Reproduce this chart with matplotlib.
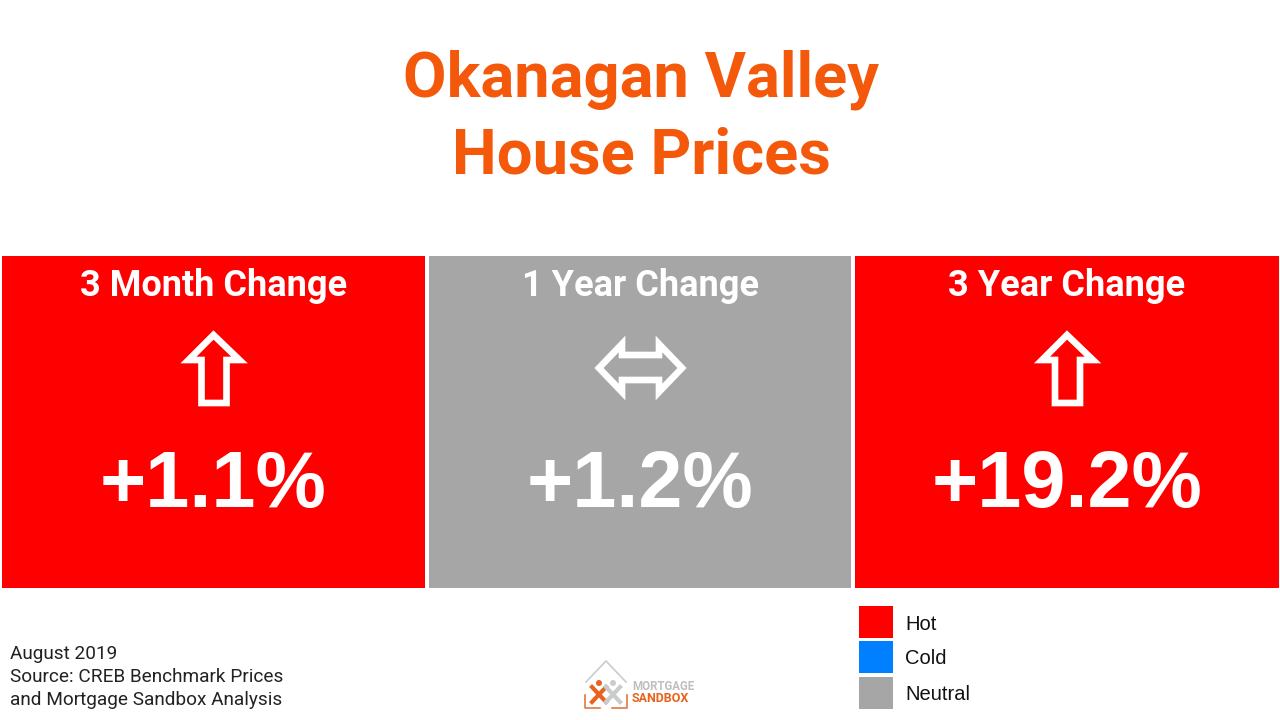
"""Okanagan Valley house prices - change panels"""
import matplotlib
matplotlib.use('Agg')
import matplotlib.pyplot as plt
from matplotlib.patches import Rectangle, Polygon, Circle

TITLE = ["Okanagan Valley", "House Prices"]
PERIODS = ["3 Month Change", "1 Year Change", "3 Year Change"]
CHANGES = ["+1.1%", "+1.2%", "+19.2%"]
STATES = ["Hot", "Neutral", "Hot"]
LEGEND = ["Hot", "Cold", "Neutral"]
FOOTER = ["August 2019", "Source: CREB Benchmark Prices", "and Mortgage Sandbox Analysis"]

COLORS = {"Hot": "#FF0000", "Cold": "#0080FF", "Neutral": "#A6A6A6"}
ORANGE = "#F4580B"
PANEL_X = [(2, 425), (429, 851), (855, 1279)]

UP_ARROW = [(0, -33), (-25, -8), (-12, -8), (-12, 35), (13, 35), (13, -8), (26, -8)]
BOTH_ARROW = [(-41, 0), (-18, -24), (-18, -13), (19, -13), (19, -24), (42, 0),
              (19, 24), (19, 12), (-18, 12), (-18, 24)]

fig = plt.figure(figsize=(12.8, 7.2), dpi=100, facecolor='white')
ax = fig.add_axes([0, 0, 1, 1])
ax.set_xlim(0, 1280)
ax.set_ylim(720, 0)
ax.axis('off')

# title
for y, line in zip([80, 157], TITLE):
    ax.text(641, y, line, ha='center', va='center', color=ORANGE,
            fontsize=45.5, fontweight='bold', family='Roboto')

# panels
for (x0, x1), period, change, state in zip(PANEL_X, PERIODS, CHANGES, STATES):
    cx = (x0 + x1) / 2
    ax.add_patch(Rectangle((x0, 256), x1 - x0, 332, color=COLORS[state], lw=0))
    ax.text(cx, 286, period, ha='center', va='center', color='white',
            fontsize=26, fontweight='bold', family='Roboto')
    shape = BOTH_ARROW if state == "Neutral" else UP_ARROW
    ax.add_patch(Polygon([(cx + dx, 368 + dy) for dx, dy in shape], closed=True,
                         fill=False, ec='white', lw=4.8, joinstyle='miter'))
    ax.text(cx, 487, change, ha='center', va='center', color='white',
            fontsize=57, fontweight='bold', family='Liberation Sans')

# legend
for y, name in zip([606, 641, 677], LEGEND):
    ax.add_patch(Rectangle((859, y), 34, 32, color=COLORS[name], lw=0))
    ax.text(905, y + 18, name, ha='left', va='center', color='#111111',
            fontsize=14.5, family='Liberation Sans')

# footer
for y, line in zip([654, 677, 700], FOOTER):
    ax.text(10, y, line, ha='left', va='center', color='#222222',
            fontsize=13.7, family='Roboto')

# logo
ax.plot([586, 606, 626], [682, 661, 682], color='#C8CCCC', lw=1.2)
ax.plot([585, 585, 600], [695, 708, 708], color='#E07A3C', lw=1.2)
ax.plot([612, 627, 627], [708, 708, 695], color='#E07A3C', lw=1.2)
ax.plot([592, 606], [687, 702], color='#E8641E', lw=3)
ax.plot([606, 592], [687, 702], color='#E8641E', lw=3)
ax.plot([606, 620], [687, 702], color='#C8CCCC', lw=3)
ax.plot([620, 606], [687, 702], color='#C8CCCC', lw=3)
ax.add_patch(Circle((599, 683), 3, color='#E8641E', lw=0))
ax.add_patch(Circle((613, 683), 3, color='#C8CCCC', lw=0))
ax.text(632, 687, "MORTGAGE", ha='left', va='center', color='#BDBFC0',
        fontsize=8.3, fontweight='bold', family='Roboto')
ax.text(632, 699, "SANDBOX", ha='left', va='center', color='#E8641E',
        fontsize=9, fontweight='bold', family='Roboto')

plt.savefig('out.png', dpi=100)
